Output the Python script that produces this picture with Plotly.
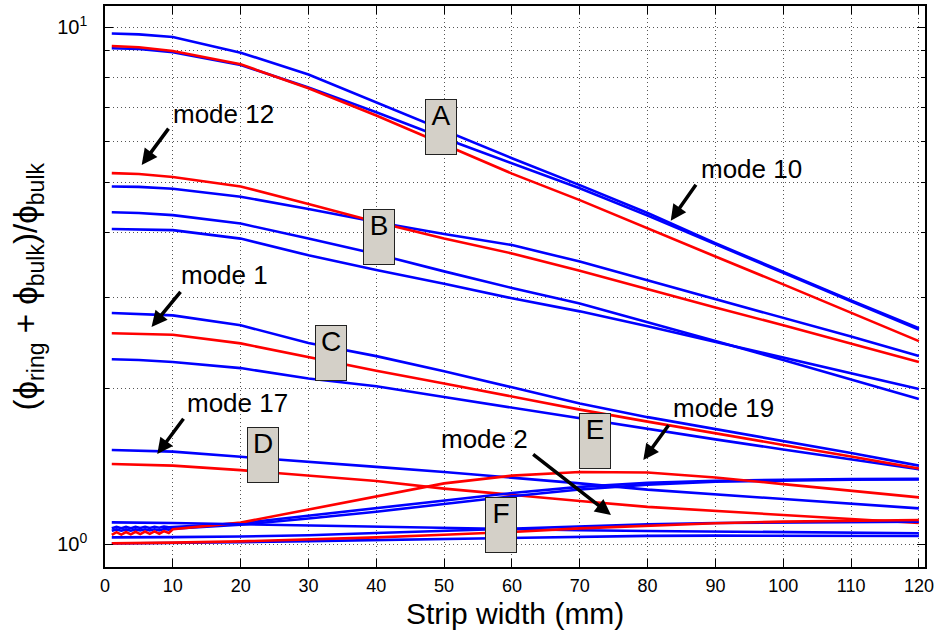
import plotly.graph_objects as go
import math

# ---------------- data ----------------
X = [1, 5, 10, 20, 30, 40, 50, 60, 70, 80, 90, 100, 110, 120]
X_WAVY = [1, 1.7, 2.4, 3.1, 3.8, 4.5, 5.2, 5.9, 6.6, 7.3, 8.0, 8.7, 9.4, 10,
          20, 30, 40, 50, 60, 70, 80, 90, 100, 110, 120]

# group A
A1_blue = [9.73, 9.69, 9.58, 8.93, 8.10, 7.15, 6.30, 5.58, 4.95, 4.37, 3.82, 3.36, 2.96, 2.615]
A2_blue = [9.11, 9.08, 8.95, 8.45, 7.65, 6.85, 6.10, 5.45, 4.88, 4.32, 3.80, 3.35, 2.95, 2.60]
A3_red = [9.20, 9.15, 9.00, 8.48, 7.62, 6.75, 5.93, 5.21, 4.63, 4.08, 3.60, 3.18, 2.80, 2.47]
# group B
B1_red = [5.22, 5.20, 5.13, 4.92, 4.55, 4.20, 3.90, 3.65, 3.38, 3.11, 2.87, 2.65, 2.44, 2.25]
B2_blue = [4.92, 4.91, 4.87, 4.70, 4.45, 4.20, 3.98, 3.79, 3.52, 3.24, 2.98, 2.74, 2.52, 2.31]
B3_blue = [4.385, 4.37, 4.33, 4.17, 3.90, 3.64, 3.37, 3.13, 2.92, 2.69, 2.47, 2.27, 2.08, 1.909]
B4_blue = [4.07, 4.06, 4.05, 3.90, 3.62, 3.39, 3.19, 2.99, 2.82, 2.64, 2.46, 2.30, 2.14, 1.995]
# group C
C1_blue = [2.80, 2.79, 2.77, 2.65, 2.45, 2.31, 2.16, 2.01, 1.87, 1.76, 1.67, 1.58, 1.50, 1.418]
C2_red = [2.557, 2.55, 2.54, 2.445, 2.30, 2.165, 2.045, 1.93, 1.82, 1.725, 1.64, 1.555, 1.477, 1.40]
C3_blue = [2.278, 2.27, 2.25, 2.19, 2.09, 2.02, 1.925, 1.836, 1.75, 1.67, 1.594, 1.524, 1.456, 1.395]
# group D
D1_blue = [1.52, 1.517, 1.509, 1.475, 1.44, 1.41, 1.378, 1.345, 1.31, 1.274, 1.247, 1.222, 1.197, 1.172]
D2_red = [1.428, 1.425, 1.418, 1.39, 1.356, 1.324, 1.28, 1.244, 1.211, 1.18, 1.159, 1.138, 1.117, 1.098]
# group E (wavy start)
E1_red = [1.042, 1.054, 1.043, 1.055, 1.044, 1.056, 1.045, 1.057, 1.046, 1.058, 1.047, 1.059, 1.050, 1.068,
          1.10, 1.167, 1.236, 1.31, 1.356, 1.378, 1.375, 1.345, 1.306, 1.269, 1.231]
E2_blue = [1.073, 1.079, 1.073, 1.079, 1.073, 1.079, 1.074, 1.080, 1.074, 1.080, 1.075, 1.081, 1.077, 1.079,
           1.097, 1.135, 1.172, 1.215, 1.255, 1.29, 1.313, 1.326, 1.333, 1.336, 1.337]
E3_blue = [1.061, 1.067, 1.061, 1.067, 1.061, 1.067, 1.062, 1.068, 1.062, 1.068, 1.063, 1.069, 1.066, 1.07,
           1.09, 1.12, 1.155, 1.197, 1.237, 1.275, 1.302, 1.32, 1.328, 1.332, 1.334]
# group F
F1_blue = [1.101, 1.100, 1.098, 1.092, 1.086, 1.080, 1.074, 1.068, 1.063, 1.060, 1.057, 1.054, 1.051, 1.049]
F2_blue = [1.030, 1.030, 1.031, 1.034, 1.040, 1.050, 1.060, 1.070, 1.082, 1.092, 1.098, 1.101, 1.103, 1.104]
F3_red = [1.003, 1.004, 1.006, 1.012, 1.020, 1.030, 1.042, 1.055, 1.072, 1.086, 1.097, 1.105, 1.110, 1.113]
F4_blue = [1.002, 1.003, 1.004, 1.008, 1.013, 1.018, 1.023, 1.028, 1.033, 1.037, 1.038, 1.038, 1.037, 1.036]

X_TICKS = [0, 10, 20, 30, 40, 50, 60, 70, 80, 90, 100, 110, 120]
Y_TICKS = [1, 10]
Y_TICK_TEXT = ["10<sup>0</sup>", "10<sup>1</sup>"]
Y_MINOR = [2, 3, 4, 5, 6, 7, 8, 9]

BOX_LABELS = ["A", "B", "C", "D", "E", "F"]
BOX_X = [49.54, 40.47, 33.25, 23.34, 72.18, 58.32]
BOX_Y = [6.40, 3.92, 2.343, 1.487, 1.581, 1.088]

MODE_TEXT = ["mode 12", "mode 1", "mode 17", "mode 10", "mode 19", "mode 2"]
MODE_TX = [17.4, 17.55, 19.6, 95.25, 91.2, 56.0]
MODE_TY = [6.80, 3.32, 1.875, 5.32, 1.834, 1.597]
ARROW_X = [5.41, 6.86, 7.71, 83.41, 79.37, 74.6]
ARROW_Y = [5.415, 2.63, 1.493, 4.225, 1.454, 1.138]
ARROW_AX = [28.3, 30.5, 27.7, 26.6, 26.7, -79.3]
ARROW_AY = [-38.3, -37.0, -37.3, -38.0, -36.7, -61.7]

X_TITLE = "Strip width (mm)"
Y_TITLE = "(ϕ<sub>ring</sub> + ϕ<sub>bulk</sub>)/ϕ<sub>bulk</sub>"

BLUE = "#0000ff"
RED = "#ff0000"

series = [
    (X, A1_blue, BLUE), (X, A2_blue, BLUE), (X, A3_red, RED),
    (X, B2_blue, BLUE), (X, B3_blue, BLUE), (X, B4_blue, BLUE), (X, B1_red, RED),
    (X, C1_blue, BLUE), (X, C3_blue, BLUE), (X, C2_red, RED),
    (X, D1_blue, BLUE), (X, D2_red, RED),
    (X_WAVY, E2_blue, BLUE), (X_WAVY, E3_blue, BLUE), (X_WAVY, E1_red, RED),
    (X, F1_blue, BLUE), (X, F2_blue, BLUE), (X, F4_blue, BLUE), (X, F3_red, RED),
]

fig = go.Figure()
for xs, ys, col in series:
    fig.add_trace(go.Scatter(x=xs, y=ys, mode="lines",
                             line=dict(color=col, width=2.6),
                             showlegend=False, hoverinfo="skip"))

FONT = "Liberation Sans, Arial, Helvetica, sans-serif"

annotations = []
for lab, bx, by in zip(BOX_LABELS, BOX_X, BOX_Y):
    annotations.append(dict(
        x=bx, y=math.log10(by), xref="x", yref="y", text=lab, showarrow=False,
        font=dict(family=FONT, size=28, color="black"),
        bgcolor="#d4d0c8", bordercolor="#222222", borderwidth=1, borderpad=0,
        width=30, height=54, valign="top", align="center"))

for t, tx, ty in zip(MODE_TEXT, MODE_TX, MODE_TY):
    annotations.append(dict(
        x=tx, y=math.log10(ty), xref="x", yref="y", text=t, showarrow=False,
        font=dict(family=FONT, size=26, color="black")))

for hx, hy, ax, ay in zip(ARROW_X, ARROW_Y, ARROW_AX, ARROW_AY):
    annotations.append(dict(
        x=hx, y=math.log10(hy), xref="x", yref="y", text=" ", showarrow=True,
        ax=ax, ay=ay, axref="pixel", ayref="pixel",
        font=dict(size=1),
        arrowhead=2, arrowsize=0.9, arrowwidth=3.5, arrowcolor="black",
        standoff=0, startstandoff=0))

# axis titles as paper-positioned annotations
annotations.append(dict(
    x=0.5, y=-0.083, xref="paper", yref="paper", text=X_TITLE, showarrow=False,
    xanchor="center", yanchor="middle",
    font=dict(family=FONT, size=30, color="black")))
annotations.append(dict(
    x=-0.094, y=0.5, xref="paper", yref="paper", text=Y_TITLE, showarrow=False,
    xanchor="center", yanchor="middle", textangle=-90,
    font=dict(family=FONT, size=33, color="black")))

fig.update_layout(
    width=934, height=630,
    margin=dict(l=105, r=9, t=6, b=63, autoexpand=False),
    paper_bgcolor="white", plot_bgcolor="white",
    font=dict(family=FONT, color="black"),
    annotations=annotations,
    showlegend=False,
)

grid_dash = "1px,3px"
fig.update_xaxes(
    range=[0, 120.9], tickmode="array", tickvals=X_TICKS, automargin=False,
    ticks="inside", ticklen=8, tickwidth=1, tickcolor="black",
    showline=True, linecolor="black", linewidth=1.5, mirror="allticks",
    showgrid=True, gridcolor="#555555", gridwidth=1, griddash=grid_dash,
    zeroline=False, tickfont=dict(family=FONT, size=18, color="black"),
    ticklabelstandoff=2,
)
fig.update_yaxes(
    type="log", range=[-0.0445, 1.0412], tickmode="array", automargin=False,
    tickvals=Y_TICKS, ticktext=Y_TICK_TEXT,
    ticks="inside", ticklen=8, tickwidth=1, tickcolor="black",
    showline=True, linecolor="black", linewidth=1.5, mirror="allticks",
    showgrid=True, gridcolor="#555555", gridwidth=1, griddash=grid_dash,
    zeroline=False, tickfont=dict(family=FONT, size=20, color="black"),
    ticklabelstandoff=12,
    minor=dict(tickmode="array", tickvals=Y_MINOR, ticks="inside", ticklen=4,
               tickcolor="black", showgrid=True, gridcolor="#555555",
               gridwidth=1, griddash=grid_dash),
)

fig.write_html("out.html", config={"displayModeBar": False},
               post_script="document.body.style.margin='0px';")
